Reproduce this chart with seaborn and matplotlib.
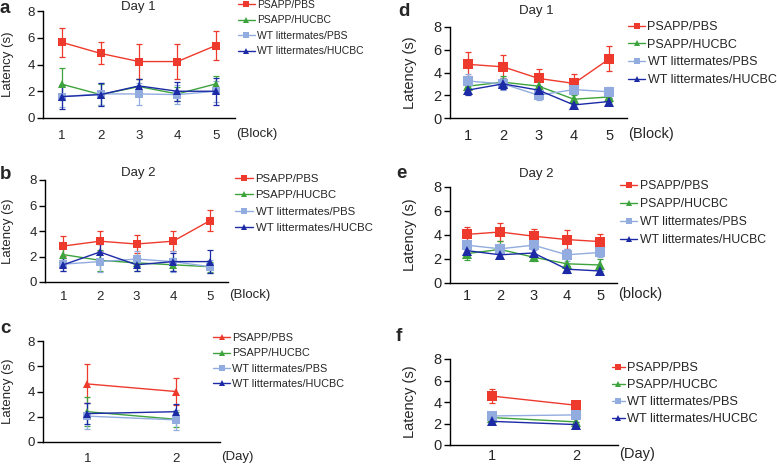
import seaborn as sns
import matplotlib.pyplot as plt
import pandas as pd
from matplotlib.lines import Line2D

sns.set_style("white")
plt.rcParams['font.family'] = ['Liberation Sans', 'DejaVu Sans']

groups = ["PSAPP/PBS", "PSAPP/HUCBC", "WT littermates/PBS", "WT littermates/HUCBC"]
colors = {"PSAPP/PBS": "#ee3a2c", "PSAPP/HUCBC": "#3da33c",
          "WT littermates/PBS": "#92acdf", "WT littermates/HUCBC": "#1c2aa6"}

blocks = [1, 2, 3, 4, 5]
days = [1, 2]

# panel a: day 1 (first cohort)
a_mean = {"PSAPP/PBS": [5.65, 4.83, 4.22, 4.22, 5.42],
          "PSAPP/HUCBC": [2.52, 1.75, 2.35, 1.8, 2.55],
          "WT littermates/PBS": [1.6, 1.8, 1.8, 1.75, 2.0],
          "WT littermates/HUCBC": [1.6, 1.75, 2.4, 2.0, 2.0]}
a_err = {"PSAPP/PBS": [1.1, 0.82, 1.28, 1.28, 1.12],
         "PSAPP/HUCBC": [1.2, 0.8, 0.6, 0.5, 0.6],
         "WT littermates/PBS": [0.8, 0.8, 0.8, 0.7, 0.8],
         "WT littermates/HUCBC": [0.9, 0.85, 0.55, 0.7, 1.0]}

# panel b: day 2
b_mean = {"PSAPP/PBS": [2.82, 3.2, 2.98, 3.2, 4.8],
          "PSAPP/HUCBC": [2.15, 1.7, 1.5, 1.35, 1.2],
          "WT littermates/PBS": [1.4, 1.6, 1.8, 1.6, 1.2],
          "WT littermates/HUCBC": [1.35, 2.35, 1.35, 1.6, 1.6]}
b_err = {"PSAPP/PBS": [0.8, 0.8, 0.72, 0.8, 0.82],
         "PSAPP/HUCBC": [0.5, 0.8, 0.6, 0.5, 0.4],
         "WT littermates/PBS": [0.5, 0.8, 0.6, 0.8, 0.5],
         "WT littermates/HUCBC": [0.5, 0.6, 0.5, 0.7, 0.9]}

# panel c: days
c_mean = {"PSAPP/PBS": [4.6, 4.0],
          "PSAPP/HUCBC": [2.4, 1.8],
          "WT littermates/PBS": [2.05, 1.75],
          "WT littermates/HUCBC": [2.25, 2.4]}
c_err = {"PSAPP/PBS": [1.55, 1.05],
         "PSAPP/HUCBC": [1.15, 0.6],
         "WT littermates/PBS": [1.0, 0.8],
         "WT littermates/HUCBC": [0.8, 0.6]}

# panel d: day 1 (second cohort)
d_mean = {"PSAPP/PBS": [4.72, 4.5, 3.48, 3.04, 5.2],
          "PSAPP/HUCBC": [2.8, 3.15, 2.8, 1.65, 1.85],
          "WT littermates/PBS": [3.25, 3.0, 2.0, 2.5, 2.3],
          "WT littermates/HUCBC": [2.45, 3.0, 2.45, 1.15, 1.45]}
d_err = {"PSAPP/PBS": [1.05, 1.02, 0.8, 0.85, 1.1],
         "PSAPP/HUCBC": [0.7, 0.5, 0.5, 0.4, 0.4],
         "WT littermates/PBS": [0.6, 0.5, 0.4, 0.4, 0.4],
         "WT littermates/HUCBC": [0.45, 0.45, 0.4, 0.3, 0.35]}

# panel e: day 2
e_mean = {"PSAPP/PBS": [4.05, 4.25, 3.9, 3.62, 3.45],
          "PSAPP/HUCBC": [2.45, 2.8, 2.15, 1.6, 1.5],
          "WT littermates/PBS": [3.15, 2.85, 3.15, 2.35, 2.55],
          "WT littermates/HUCBC": [2.7, 2.35, 2.5, 1.15, 1.0]}
e_err = {"PSAPP/PBS": [0.6, 0.75, 0.6, 0.8, 0.6],
         "PSAPP/HUCBC": [0.5, 0.7, 0.3, 0.4, 0.5],
         "WT littermates/PBS": [0.4, 0.4, 0.4, 0.5, 0.4],
         "WT littermates/HUCBC": [0.3, 0.3, 0.3, 0.3, 0.2]}

# panel f: days
f_mean = {"PSAPP/PBS": [4.55, 3.7],
          "PSAPP/HUCBC": [2.55, 2.15],
          "WT littermates/PBS": [2.7, 2.8],
          "WT littermates/HUCBC": [2.2, 1.9]}
f_err = {"PSAPP/PBS": [0.65, 0.4],
         "PSAPP/HUCBC": [0.3, 0.3],
         "WT littermates/PBS": [0.3, 0.3],
         "WT littermates/HUCBC": [0.2, 0.2]}

sq_markers = {"PSAPP/PBS": "s", "PSAPP/HUCBC": "^",
              "WT littermates/PBS": "s", "WT littermates/HUCBC": "^"}
tri_markers = dict(sq_markers, **{"PSAPP/PBS": "^"})

W, H = 777, 467
fig = plt.figure(figsize=(W / 100, H / 100), dpi=100)

panels = [
    # letter, title, xs, mean, err, markers, xlabel, box(px), legend(px), legend font, spacing, handle len,
    # letter pos, title pos, tick font, marker size, ylabel right edge, x label offset(px)
    ("a", "Day 1", blocks, a_mean, a_err, sq_markers, "(Block)", (43, 11, 235, 118), (238, 0), 7.5, 0.52, 1.6,
     (0, 0), (138, 1), 9.5, 5.5, 14, 16.5),
    ("b", "Day 2", blocks, b_mean, b_err, sq_markers, "(Block)", (45, 180, 228, 282), (235, 174), 8.2, 0.55, 1.6,
     (0, 166), (138, 167), 9.5, 5.5, 14, 13),
    ("c", None, days, c_mean, c_err, tri_markers, "(Day)", (43, 341, 220, 442), (213, 333), 7.8, 0.5, 1.6,
     (0, 320), None, 9.5, 5.5, 14, 15),
    ("d", "Day 1", blocks, d_mean, d_err, sq_markers, "(Block)", (450, 27, 627, 118), (628, 21), 9.0, 0.45, 1.36,
     (398, 3), (536, 5), 10.5, 6.5, 417, 16),
    ("e", "Day 2", blocks, e_mean, e_err, sq_markers, "(block)", (450, 187, 617, 283), (620, 180), 8.8, 0.5, 1.4,
     (396, 165), (536, 168), 10.5, 6.5, 417, 11),
    ("f", None, days, f_mean, f_err, sq_markers, "(Day)", (450, 359, 618, 445), (612, 362), 9.2, 0.4, 1.0,
     (396, 328), None, 10.5, 6.5, 417, 9),
]

for (letter, title, xs, mean, err, markers, xlab, box, leg, lfs, lsp, hl,
     lpos, tpos, tfs, ms, ylx, xoff) in panels:
    x0, y0, x1, y1 = box
    ax = fig.add_axes([x0 / W, 1 - y1 / H, (x1 - x0) / W, (y1 - y0) / H])
    rows = [(g, x, m) for g in groups for x, m in zip(xs, mean[g])]
    df = pd.DataFrame(rows, columns=["group", "x", "latency"])
    sns.lineplot(data=df, x="x", y="latency", hue="group", style="group",
                 palette=colors, markers=markers, dashes=False, ax=ax,
                 legend=False, linewidth=1.0, markersize=ms, markeredgewidth=0)
    for g in groups:
        ax.errorbar(xs, mean[g], yerr=err[g], fmt="none", ecolor=colors[g],
                    elinewidth=0.9, capsize=2.5, capthick=0.9, zorder=1)
    n = len(xs)
    ax.set_xlim(0.5, n + 0.5)
    ax.set_ylim(0, 8)
    ax.set_yticks([0, 2, 4, 6, 8])
    ax.set_xticks(xs)
    ax.set_xticks([i + 0.5 for i in range(n + 1)], minor=True)
    # tick label centre sits about half a digit below the pad
    pad_pt = max(0.5, (xoff - 0.34 * tfs * 100 / 72) * 72 / 100)
    ax.tick_params(axis="x", which="major", length=0, labelsize=tfs, pad=pad_pt)
    ax.tick_params(axis="x", which="minor", length=4, width=1, direction="out", color="black")
    ax.tick_params(axis="y", length=4, width=1, direction="out", color="black", labelsize=tfs, left=True, pad=2)
    ax.set_xlabel("")
    ax.set_ylabel("Latency (s)", fontsize=tfs)
    ax.yaxis.set_label_coords((ylx - x0) / (x1 - x0), 0.5)
    for s in ["top", "right"]:
        ax.spines[s].set_visible(False)
    for s in ["left", "bottom"]:
        ax.spines[s].set_color("black")
        ax.spines[s].set_linewidth(1)
    ax.text((x1 + 1) / W, 1 - (y1 + xoff) / H, xlab, transform=fig.transFigure,
            fontsize=tfs, va="center", ha="left")
    handles = [Line2D([0], [0], color=colors[g], marker=markers[g], markersize=5,
                      markeredgewidth=0, linewidth=1) for g in groups]
    ax.legend(handles, groups, loc="upper left", bbox_to_anchor=(leg[0] / W, 1 - leg[1] / H),
              bbox_transform=fig.transFigure, frameon=False, fontsize=lfs,
              handlelength=hl, handletextpad=0.2, labelspacing=lsp, borderpad=0, borderaxespad=0)
    fig.text(lpos[0] / W, 1 - lpos[1] / H, letter, fontsize=13.5, fontweight="bold", va="top", ha="left")
    if title:
        fig.text(tpos[0] / W, 1 - tpos[1] / H, title, fontsize=9.5, va="top", ha="center")

fig.savefig("out.png", dpi=100)
